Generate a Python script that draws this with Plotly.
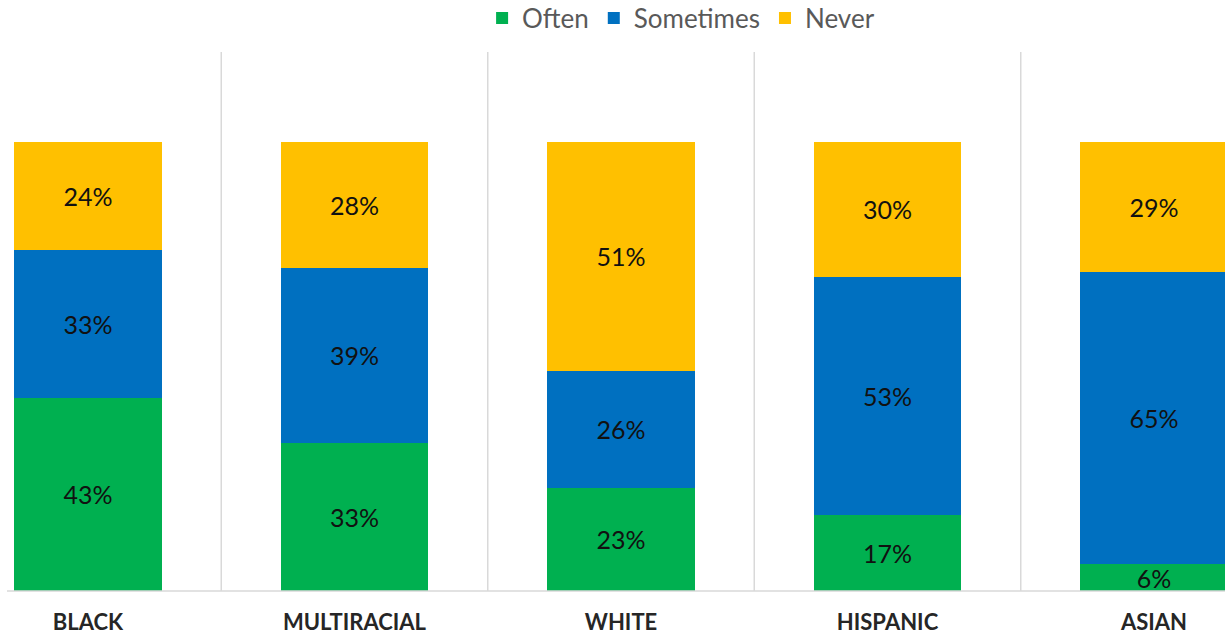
import plotly.graph_objects as go

categories = ["BLACK", "MULTIRACIAL", "WHITE", "HISPANIC", "ASIAN"]
often = [43, 33, 23, 17, 6]
sometimes = [33, 39, 26, 53, 65]
never = [24, 28, 51, 30, 29]

series = [
    ("Often", often, "#00B050"),
    ("Sometimes", sometimes, "#0070C0"),
    ("Never", never, "#FFC000"),
]

W, H = 1225, 635

fig = go.Figure()
for name, vals, color in series:
    fig.add_trace(go.Bar(
        x=categories,
        y=[v / 100 for v in vals],
        name=name,
        marker=dict(color=color, line=dict(width=0)),
        width=0.555,
        text=[f"{v}%" for v in vals],
        textposition="inside",
        insidetextanchor="middle",
        textangle=0,
        constraintext="none",
        textfont=dict(family="Lato, Carlito, sans-serif", size=25, color="#111111"),
        hoverinfo="skip",
    ))

# category separators (vertical gridlines)
for i in range(len(categories) - 1):
    fig.add_shape(type="line", xref="x", yref="paper",
                  x0=i + 0.5, x1=i + 0.5, y0=0, y1=1,
                  line=dict(color="#D9D9D9", width=1.5), layer="below")

# baseline axis line
fig.add_shape(type="line", xref="paper", yref="paper",
              x0=7 / W, x1=1, y0=0, y1=0,
              line=dict(color="#D9D9D9", width=1.5))

fig.update_layout(
    barmode="stack",
    width=W, height=H,
    margin=dict(l=0, r=0, t=52, b=44, autoexpand=False),
    plot_bgcolor="white", paper_bgcolor="white",
    showlegend=True,
    legend=dict(orientation="h", x=0.556, xanchor="center",
                yref="container", y=1 - 18 / H, yanchor="middle",
                font=dict(family="Lato, Carlito, sans-serif", size=26, color="#595959"),
                traceorder="normal", bgcolor="rgba(0,0,0,0)"),
    xaxis=dict(type="category", range=[-88 / 266.5, (W - 88) / 266.5], showgrid=False,
               zeroline=False, showline=False, ticks="", ticklabelstandoff=16,
               tickfont=dict(family="Lato, Carlito, sans-serif", size=22, color="#262626",
                             weight="bold")),
    yaxis=dict(range=[0, 1.2], visible=False, showgrid=False, zeroline=False),
)

fig.write_html("out.html",
               config={"displayModeBar": False, "staticPlot": True},
               post_script="document.body.style.margin='0px';document.body.style.overflow='hidden';")
